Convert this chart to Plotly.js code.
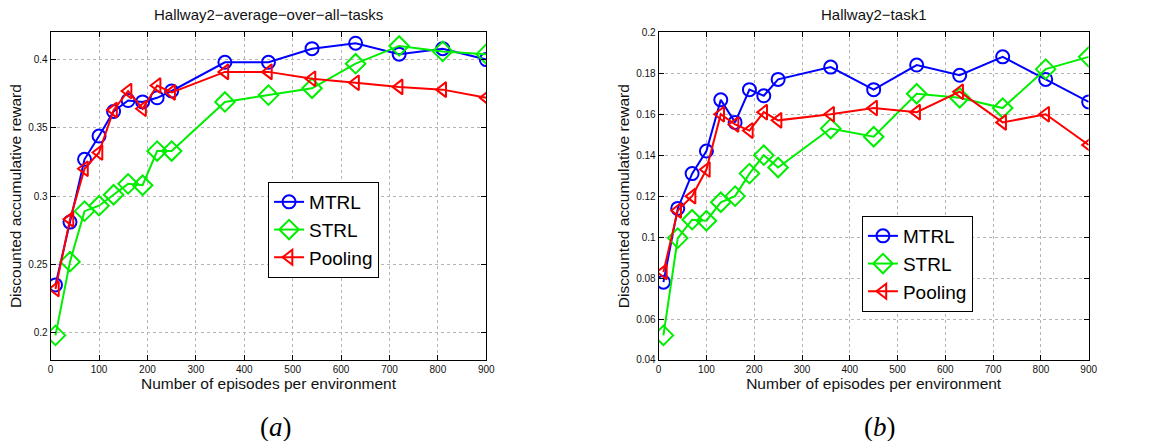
<!DOCTYPE html>
<html>
<head>
<meta charset="utf-8">
<script src="https://cdn.plot.ly/plotly-3.0.1.min.js"></script>
<style>html,body{margin:0;padding:0;background:#fff;}#chart{width:1167px;height:441px;}</style>
</head>
<body>
<div id="chart"></div>
<script>
const episodes = [10, 40, 70, 100, 130, 160, 190, 220, 250, 360, 450, 540, 630, 720, 810, 900];

const avgMTRL    = [0.235, 0.281, 0.327, 0.344, 0.362, 0.370, 0.369, 0.372, 0.377, 0.398, 0.398, 0.408, 0.412, 0.404, 0.408, 0.400];
const avgSTRL    = [0.198, 0.252, 0.289, 0.293, 0.301, 0.309, 0.308, 0.333, 0.333, 0.369, 0.374, 0.379, 0.397, 0.410, 0.406, 0.404];
const avgPooling = [0.232, 0.283, 0.320, 0.332, 0.363, 0.377, 0.364, 0.381, 0.376, 0.391, 0.391, 0.386, 0.383, 0.380, 0.378, 0.372];

const t1MTRL    = [0.078, 0.114, 0.131, 0.142, 0.167, 0.156, 0.172, 0.169, 0.177, 0.183, 0.172, 0.184, 0.179, 0.188, 0.177, 0.166];
const t1STRL    = [0.052, 0.0995, 0.1085, 0.108, 0.117, 0.120, 0.131, 0.140, 0.134, 0.153, 0.149, 0.170, 0.168, 0.163, 0.182, 0.188];
const t1Pooling = [0.083, 0.113, 0.120, 0.133, 0.160, 0.155, 0.152, 0.161, 0.157, 0.160, 0.163, 0.161, 0.171, 0.156, 0.160, 0.145];

const xTicks = [0, 100, 200, 300, 400, 500, 600, 700, 800, 900];
const yTicksA = [0.2, 0.25, 0.3, 0.35, 0.4];
const yTickTextA = ["0.2", "0.25", "0.3", "0.35", "0.4"];
const yTicksB = [0.04, 0.06, 0.08, 0.1, 0.12, 0.14, 0.16, 0.18, 0.2];
const yTickTextB = ["0.04", "0.06", "0.08", "0.1", "0.12", "0.14", "0.16", "0.18", "0.2"];

const seriesNames = ["MTRL", "STRL", "Pooling"];
const colors = ["#0000ff", "#00ee00", "#ff0000"];
const symbols = ["circle-open", "diamond-open", "triangle-left-open"];

function mk(y, i, xa, ya, legend) {
  return {
    x: episodes, y: y, name: seriesNames[i], type: "scatter", mode: "lines+markers",
    xaxis: xa, yaxis: ya, legend: legend,
    line: {color: colors[i], width: 2},
    marker: {symbol: symbols[i], size: i === 1 ? 15 : 13, color: colors[i], line: {color: colors[i], width: 2}}
  };
}

const data = [
  mk(avgMTRL, 0, "x", "y", "legend"),
  mk(avgSTRL, 1, "x", "y", "legend"),
  mk(avgPooling, 2, "x", "y", "legend"),
  mk(t1MTRL, 0, "x2", "y2", "legend2"),
  mk(t1STRL, 1, "x2", "y2", "legend2"),
  mk(t1Pooling, 2, "x2", "y2", "legend2")
];

const fontFam = "Liberation Sans, Arial, sans-serif";
function xax(domain, anchor) {
  return {
    domain: domain, anchor: anchor, range: [0, 900], tickvals: xTicks,
    showline: true, linecolor: "#000", linewidth: 1, mirror: "ticks",
    ticks: "inside", ticklen: 5, tickcolor: "#000",
    showgrid: true, gridcolor: "#b5b5b5", griddash: "dot", gridwidth: 1,
    zeroline: false, tickfont: {family: fontFam, size: 10, color: "#111"},
    title: {text: "Number of episodes per environment", font: {family: fontFam, size: 15.5, color: "#111"}, standoff: 4}
  };
}
function yax(range, tv, tt, anchor) {
  return {
    domain: [0.1837, 0.9268], anchor: anchor, range: range, tickvals: tv, ticktext: tt,
    showline: true, linecolor: "#000", linewidth: 1, mirror: "ticks",
    ticks: "inside", ticklen: 5, tickcolor: "#000",
    showgrid: true, gridcolor: "#b5b5b5", griddash: "dot", gridwidth: 1,
    zeroline: false, tickfont: {family: fontFam, size: 10, color: "#111"},
    title: {text: "Discounted accumulative reward", font: {family: fontFam, size: 15.5, color: "#111"}, standoff: 2}
  };
}

const legendBase = {
  xanchor: "left", yanchor: "top", bgcolor: "#fff", bordercolor: "#000", borderwidth: 1,
  font: {family: fontFam, size: 19, color: "#000"}, tracegroupgap: 0, itemwidth: 30
};

const layout = {
  width: 1167, height: 441,
  margin: {l: 0, r: 0, t: 0, b: 0},
  paper_bgcolor: "#fff", plot_bgcolor: "#fff",
  showlegend: true,
  xaxis: xax([0.0434, 0.4167], "y"),
  yaxis: yax([0.18, 0.42], yTicksA, yTickTextA, "x"),
  xaxis2: xax([0.5644, 0.9329], "y2"),
  yaxis2: yax([0.04, 0.2], yTicksB, yTickTextB, "x2"),
  legend: Object.assign({x: 0.2297, y: 0.5873}, legendBase),
  legend2: Object.assign({x: 0.7386, y: 0.5102}, legendBase),
  annotations: [
    {text: "Hallway2\u2212average\u2212over\u2212all\u2212tasks", xref: "paper", yref: "paper", x: 0.2300, y: 0.966, showarrow: false, xanchor: "center", yanchor: "middle", font: {family: fontFam, size: 15, color: "#111"}},
    {text: "Hallway2\u2212task1", xref: "paper", yref: "paper", x: 0.7486, y: 0.966, showarrow: false, xanchor: "center", yanchor: "middle", font: {family: fontFam, size: 15, color: "#111"}},
    {text: "(<i>a</i>)", xref: "paper", yref: "paper", x: 0.2365, y: 0.032, showarrow: false, xanchor: "center", yanchor: "middle", font: {family: "Liberation Serif, DejaVu Serif, serif", size: 27, color: "#000"}},
    {text: "(<i>b</i>)", xref: "paper", yref: "paper", x: 0.7541, y: 0.032, showarrow: false, xanchor: "center", yanchor: "middle", font: {family: "Liberation Serif, DejaVu Serif, serif", size: 27, color: "#000"}}
  ]
};

Plotly.newPlot("chart", data, layout, {staticPlot: true, displayModeBar: false});
</script>
</body>
</html>
